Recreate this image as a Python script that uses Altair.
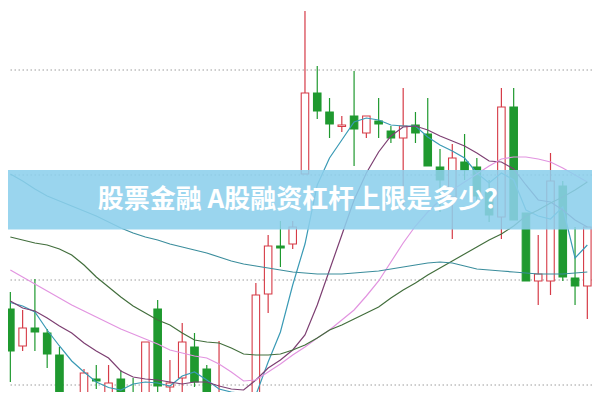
import altair as alt
import pandas as pd

# ---- data (price units) ----
idx = list(range(48))
opens = [19.1, 15.4, 17.2, 16.7, 14.5, 8.5, 9.0, 12.1, 9.0, 12.1, 10.0, 9.5,
         19.1, 11.3, 12.2, 15.3, 13.1, 10.2, 10.4, 9.5, 9.0, 20.6, 25.4, 25.6,
         32.6, 40.7, 38.8, 37.35, 38.4, 36.7, 37.9, 36.9, 36.2, 37.5, 36.6, 33.3,
         30.3, 33.8, 33.3, 30.8, 28.3, 39.3, 28.7, 21.9, 21.9, 31.4, 22.2, 21.4]
highs = [20.8, 19.0, 22.1, 17.1, 15.3, 10.7, 13.1, 13.5, 13.5, 13.0, 12.2, 15.8,
         20.0, 14.0, 17.7, 16.7, 13.5, 15.9, 10.6, 9.8, 21.7, 26.5, 27.9, 27.9,
         48.9, 43.4, 40.2, 38.4, 42.9, 38.4, 40.2, 37.4, 41.2, 38.8, 40.2, 35.1,
         35.6, 36.6, 34.2, 32.0, 41.2, 41.2, 28.7, 26.5, 34.7, 31.9, 27.3, 27.3]
lows = [11.8, 14.9, 14.9, 13.2, 8.0, 8.0, 8.5, 11.1, 8.5, 8.5, 8.0, 9.0,
        10.7, 10.7, 10.7, 11.3, 10.0, 9.0, 8.5, 8.5, 8.5, 18.7, 23.3, 25.1,
        32.6, 38.1, 36.2, 36.8, 33.4, 36.2, 36.2, 35.7, 29.5, 35.7, 33.4, 28.8,
        26.1, 32.0, 29.5, 27.8, 26.1, 28.0, 21.9, 19.5, 20.5, 21.9, 19.5, 18.1]
closes = [14.9, 17.2, 16.8, 14.6, 9.0, 10.0, 12.7, 11.9, 11.7, 9.0, 8.5, 15.8,
          11.4, 11.7, 15.8, 11.8, 10.7, 10.4, 9.0, 8.8, 20.5, 25.4, 25.2, 27.3,
          40.7, 38.9, 37.6, 37.5, 37.1, 38.4, 37.6, 36.2, 37.4, 36.7, 33.4, 32.0,
          34.2, 33.0, 30.4, 28.5, 39.3, 28.0, 21.9, 22.6, 31.9, 22.3, 21.4, 27.3]

ma5 = [19.75, 19.4, 18.8, 17.0, 15.4, 13.9, 12.8, 11.8, 11.25, 11.0, 11.6, 11.8,
       11.7, 11.4, 12.4, 12.8, 12.0, 11.1, 10.8, 10.6, 10.5, 13.8, 16.8, 21.5,
       25.6, 31.5, 34.2, 36.0, 37.8, 38.2, 38.0, 37.5, 37.4, 37.4, 36.3, 35.5,
       34.9, 34.2, 32.7, 31.7, 32.7, 32.0, 29.0, 28.4, 28.1, 29.3, 24.2, 25.5]
ma10 = [19.9, 19.2, 18.9, 18.2, 17.4, 16.7, 15.7, 14.9, 14.2, 12.9, 12.3, 12.1,
        12.0, 11.8, 11.6, 11.8, 11.8, 11.4, 11.1, 11.0, 12.0, 13.2, 14.0, 15.0,
        16.5, 19.5, 23.0, 26.5, 30.0, 32.7, 34.8, 36.4, 37.3, 37.4, 37.0, 36.4,
        35.9, 35.4, 34.7, 33.9, 33.8, 33.1, 31.5, 30.0, 29.8, 29.0, 28.0, 27.3]
ma20 = [23.0, 22.3, 21.6, 20.9, 20.2, 19.5, 18.9, 18.3, 17.7, 17.1, 16.6, 16.1,
        15.6, 15.0, 14.7, 14.4, 14.2, 13.6, 12.8, 11.9, 12.0, 12.8, 13.6, 14.5,
        15.3, 16.2, 17.0, 18.0, 19.0, 20.4, 21.9, 23.8, 25.7, 27.4, 28.8, 30.0,
        31.0, 31.8, 32.6, 33.4, 34.1, 34.3, 34.3, 34.1, 33.8, 33.2, 32.5, 31.8]
ma60 = [26.3, 26.0, 25.7, 25.5, 25.1, 24.5, 23.5, 22.3, 21.3, 20.3, 19.4, 18.7,
        18.0, 17.5, 16.7, 16.0, 15.8, 15.7, 15.2, 14.6, 14.5, 14.5, 14.6, 15.0,
        15.5, 16.2, 17.0, 17.5, 18.1, 18.7, 19.3, 20.2, 21.0, 21.7, 22.5, 23.2,
        23.9, 24.6, 25.3, 26.0, 26.6, 27.4, 28.4, 29.0, 29.7, 30.3, 31.0, 31.8]
ma120 = [32.6, 31.9, 31.1, 30.4, 29.9, 29.4, 28.9, 28.4, 27.8, 27.2, 26.7, 26.3,
         26.0, 25.6, 25.3, 25.0, 24.7, 24.3, 23.9, 23.6, 23.4, 23.2, 23.0, 22.8,
         22.7, 22.6, 22.6, 22.6, 22.7, 22.8, 22.9, 23.1, 23.3, 23.5, 23.7, 23.8,
         23.7, 23.4, 23.1, 23.0, 22.9, 22.8, 22.7, 22.6, 22.6, 22.6, 22.7, 22.8]

ma_names = ["MA5", "MA10", "MA20", "MA60", "MA120"]
ma_colors = ["#3a9ab5", "#7d3f72", "#e294e0", "#426e3c", "#3b8d9c"]
grid_levels = [11.5, 22.0, 32.5, 43.0]
title = "股票金融 A股融资杠杆上限是多少？"

RED = "#d63b47"
GREEN = "#1f992f"

W, H = 584, 384

candles = pd.DataFrame({"i": idx, "open": opens, "high": highs,
                        "low": lows, "close": closes})
candles["dir"] = ["up" if c >= o else "down" for o, c in zip(opens, closes)]

rows = []
for name, vals in zip(ma_names, [ma5, ma10, ma20, ma60, ma120]):
    for i, v in zip(idx, vals):
        rows.append({"i": i, "v": v, "s": name})
ma_df = pd.DataFrame(rows)

xs = alt.Scale(domain=[0.216, 0.216 + W / 12.49], nice=False, zero=False)
ys = alt.Scale(domain=[49.2 - H / 10.0, 49.2], nice=False, zero=False)
X = alt.X("i:Q", scale=xs, axis=None)

grid = alt.Chart(pd.DataFrame({"g": grid_levels})).mark_rule(
    color="#9c9c9c", strokeDash=[1.5, 2.5], strokeWidth=1
).encode(y=alt.Y("g:Q", scale=ys, axis=None))

dir_stroke = alt.Scale(domain=["up", "down"], range=[RED, GREEN])
wick = alt.Chart(candles).mark_rule(strokeWidth=1.2).encode(
    x=X,
    y=alt.Y("low:Q", scale=ys, axis=None), y2="high:Q",
    stroke=alt.Stroke("dir:N", scale=dir_stroke, legend=None),
)
body = alt.Chart(candles).mark_bar(size=7.5, strokeWidth=1.1).encode(
    x=X,
    y=alt.Y("open:Q", scale=ys, axis=None), y2="close:Q",
    fill=alt.Fill("dir:N", scale=alt.Scale(domain=["up", "down"], range=["#ffffff", GREEN]), legend=None),
    stroke=alt.Stroke("dir:N", scale=dir_stroke, legend=None),
)

lines = alt.Chart(ma_df).mark_line(strokeWidth=1.2).encode(
    x=X,
    y=alt.Y("v:Q", scale=ys, axis=None),
    color=alt.Color("s:N", scale=alt.Scale(domain=ma_names, range=ma_colors), legend=None),
    order="i:Q",
)

tdf = pd.DataFrame({"t": [title]})
banner = alt.Chart(tdf).mark_rect(fill="#8ccfec", opacity=0.88).encode(
    x=alt.value(0), x2=alt.value(W), y=alt.value(162), y2=alt.value(221.5)
)
text = alt.Chart(tdf).mark_text(
    font="Noto Sans CJK SC", fontSize=26, fontWeight="bold", color="#ffffff",
    align="center", baseline="middle"
).encode(x=alt.value(296), y=alt.value(192), text="t:N")

chart = alt.layer(grid, wick, body, lines, banner, text).properties(
    width=W, height=H, padding=0, autosize="none"
).configure_view(stroke=None)

chart.save("out.html", embed_options={"renderer": "svg", "actions": False})
